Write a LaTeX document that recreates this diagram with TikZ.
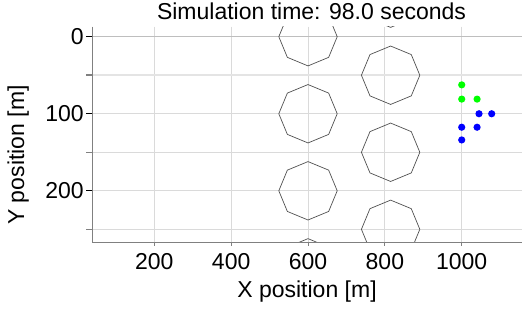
\documentclass[tikz,border=0pt]{standalone}
\usepackage{fontspec}
\setmainfont{Liberation Sans}
\definecolor{spinegray}{RGB}{128,128,128}
\definecolor{gridgray}{RGB}{218,218,218}
\definecolor{gridzero}{RGB}{190,190,190}
\definecolor{gridfifty}{RGB}{228,228,228}
\definecolor{obstacle}{RGB}{80,80,80}
\definecolor{dotgreen}{RGB}{0,255,0}
\definecolor{dotblue}{RGB}{0,0,255}
\tikzset{
  txt/.style={inner sep=0pt, font=\fontsize{23}{27}\selectfont},
  gridline/.style={draw=gridgray, line width=0.8pt},
  spine/.style={draw=spinegray, line width=1pt},
  majortick/.style={draw=black, line width=1pt},
  minortick/.style={draw=spinegray, line width=1.5pt},
  obst/.style={draw=obstacle, line width=0.7pt},
  gdot/.style={fill=dotgreen},
  bdot/.style={fill=dotblue}
}
\begin{document}
\begin{tikzpicture}[x=0.38425pt, y=-0.7704pt]
\useasboundingbox (-201.56,-47.64) rectangle (1159.5,357.35);
% plot area corners
\coordinate (tl) at (39,-13);
\coordinate (br) at (1157,267.4);
% grid
\foreach \gx in {200,400,600,800,1000}
  \draw[gridline] (\gx,-13) -- (\gx,267.4);
\foreach \gy in {100,150,200,250}
  \draw[gridline] (39,\gy) -- (1157,\gy);
\draw[draw=gridfifty, line width=2pt] (39,50) -- (1157,50);
\draw[draw=gridzero, line width=0.9pt] (39,0) -- (1157,0);
% obstacles
\begin{scope}
\clip (tl) rectangle (br);
\foreach \cx/\cy in {600/0,600/100,600/200,600/300,815/-50,815/50,815/150,815/250}
  \draw[obst, shift={(\cx,\cy)}] (90:29.2pt) -- (45:29.2pt) -- (0:29.2pt) -- (-45:29.2pt)
     -- (-90:29.2pt) -- (-135:29.2pt) -- (180:29.2pt) -- (135:29.2pt) -- cycle;
\end{scope}
% vehicles
\foreach \dx/\dy in {1000/62.5,1000/81,1040/81}
  \fill[gdot] (\dx,\dy) circle[radius=3.6pt];
\foreach \dx/\dy in {1045/100,1078/100,1000/117.5,1040/117.5,1000/134}
  \fill[bdot] (\dx,\dy) circle[radius=3.6pt];
% spines
\draw[spine] (39,-13) -- (39,267.4) -- (1157,267.4);
% y ticks
\foreach \ty in {0,100,200}
  \draw[majortick] (39,\ty) -- ++(-6pt,0);
\foreach \ty in {50,150,250}
  \draw[minortick] (39,\ty) -- ++(-6pt,0);
% x ticks
\foreach \tx in {200,400,600,800,1000}
  \draw[spine] (\tx,267.4) -- ++(0,-3.5pt);
% tick labels
\node[txt, anchor=east] (y0) at ([xshift=-8.5pt]39,0) {0};
\node[txt, anchor=east] (y100) at ([xshift=-8.5pt]39,100) {100};
\node[txt, anchor=east] (y200) at ([xshift=-8.5pt]39,200) {200};
\node[txt, anchor=north] (x200) at ([yshift=-10.3pt]200,267.4) {200};
\node[txt, anchor=north] (x400) at ([yshift=-10.3pt]400,267.4) {400};
\node[txt, anchor=north] (x600) at ([yshift=-10.3pt]600,267.4) {600};
\node[txt, anchor=north] (x800) at ([yshift=-10.3pt]800,267.4) {800};
\node[txt, anchor=north] (x1000) at ([yshift=-10.3pt]1000,267.4) {1000};
% labels
\node[txt, anchor=base] (title) at (609.1,-21.7) {Simulation time: 98.0 seconds};
\node[txt, anchor=base] (xlabel) at (597.4,337.9) {X position [m]};
\node[txt, anchor=base, rotate=90] (ylabel) at (-139.1,153.6) {Y position [m]};
\end{tikzpicture}
\end{document}
